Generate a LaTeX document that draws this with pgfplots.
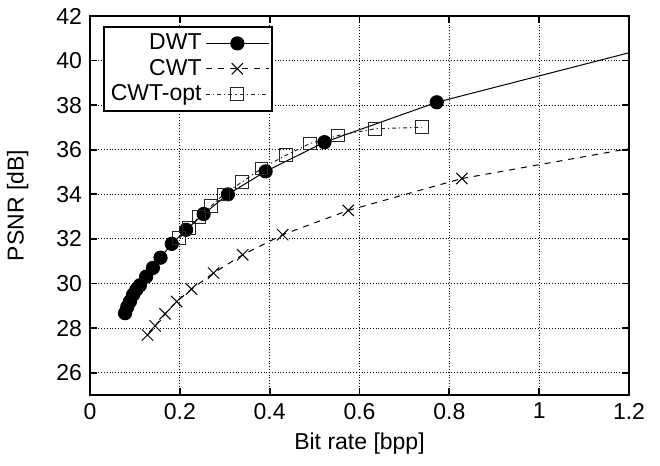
\documentclass[border=0pt]{standalone}
\usepackage{fontspec}
\setmainfont{Liberation Sans}
\usepackage{pgfplots}
\pgfplotsset{compat=1.18}

\begin{document}
\fontsize{11.5}{13.5}\selectfont
\begin{tikzpicture}
\begin{axis}[
  name=ax,
  scale only axis,
  width=269.5pt, height=189.5pt,
  xmin=0, xmax=1.2, ymin=25, ymax=42,
  xtick={0,0.2,...,1.2},
  ytick={26,28,...,42},
  xticklabel style={/pgf/number format/fixed},
  /pgf/number format/assume math mode=true,
  tick align=inside,
  major tick length=3.5pt,
  tick style={black, line width=0.9pt},
  axis line style={line width=0.9pt},
  grid=major,
  major grid style={black, densely dotted, line width=0.5pt},
  xlabel={Bit rate [bpp]},
  ylabel={PSNR [dB]},
  every axis x label/.style={at={(axis description cs:0.5,-0.127)}, anchor=center},
  every axis y label/.style={at={(axis description cs:-0.134,0.5)}, rotate=90, anchor=center},
  legend pos=north west,
  legend plot pos=right,
  legend cell align=right,
  legend style={line width=0.9pt, inner sep=1.5pt, row sep=-1pt, at={(0.024,0.974)}},
  legend image code/.code={
    \draw[#1, mark repeat=2, mark phase=2] plot coordinates {(0cm,0cm) (0.55cm,0cm) (1.1cm,0cm)};
  },
]
% DWT line tail (no mark)
\addplot[black, line width=0.5pt, forget plot] coordinates {
  (0.772,38.13) (1.2,40.35)
};
\addplot[black, line width=0.5pt, mark=*, mark size=3.3pt,
  mark options={solid, fill=black}] coordinates {
  (0.078,28.67) (0.083,28.95) (0.089,29.20) (0.096,29.50) (0.103,29.72)
  (0.111,29.92) (0.125,30.31) (0.140,30.70) (0.157,31.16) (0.182,31.78)
  (0.214,32.41) (0.253,33.12) (0.307,34.00) (0.391,35.03) (0.522,36.34)
  (0.772,38.13)
};
\addlegendentry{DWT}
% CWT line tail (no mark)
\addplot[black, dashed, line width=0.5pt, forget plot] coordinates {
  (0.828,34.71) (1.2,36.05)
};
\addplot[black, dashed, line width=0.5pt, mark=x, mark size=4pt,
  mark options={solid}] coordinates {
  (0.128,27.69) (0.145,28.10) (0.167,28.64) (0.193,29.19) (0.226,29.75)
  (0.275,30.47) (0.340,31.29) (0.429,32.19) (0.575,33.28) (0.828,34.71)
};
\addlegendentry{CWT}
\addplot[black!85, dash pattern=on 2pt off 1.5pt on 0.6pt off 1.5pt, line width=0.5pt,
  mark=square, mark size=3.2pt, mark options={solid}] coordinates {
  (0.199,32.04) (0.221,32.49) (0.243,33.00) (0.269,33.46) (0.297,33.99)
  (0.338,34.55) (0.382,35.16) (0.436,35.75) (0.490,36.28) (0.553,36.64)
  (0.635,36.94) (0.739,37.01)
};
\addlegendentry{CWT-opt}
\end{axis}
\pgfresetboundingbox
\path ([shift={(-45pt,-35.5pt)}]ax.south west) rectangle ([shift={(15.5pt,8pt)}]ax.north east);
\end{tikzpicture}
\end{document}
